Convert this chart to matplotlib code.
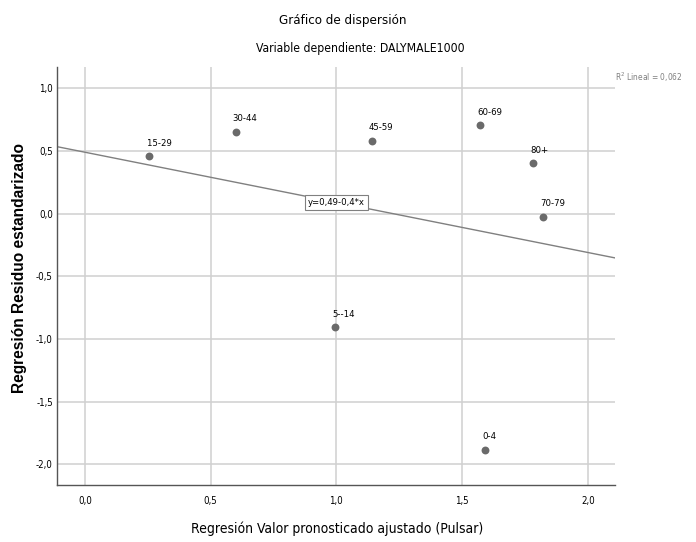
import numpy as np
import matplotlib.pyplot as plt
from matplotlib.ticker import FuncFormatter, MultipleLocator

# predicted (x) vs standardized residual (y) for each age group
labels = ['15-29', '30-44', '45-59', '60-69', '80+', '70-79', '5--14', '0-4']
pred = [0.256, 0.599, 1.140, 1.572, 1.781, 1.823, 0.994, 1.590]
resid = [0.457, 0.654, 0.583, 0.707, 0.401, -0.024, -0.905, -1.883]

# fit line y = b0 + b1*x as reported
b0 = 0.49
b1 = -0.4
r2 = '0,062'

narrow = dict(family=['Liberation Sans Narrow', 'DejaVu Sans'], stretch='condensed')
fig = plt.figure(figsize=(6.96, 5.42), dpi=100)
ax = fig.add_axes([0.0819, 0.1052, 0.8017, 0.7712])

xmin, xmax = -0.111, 2.108
ymin, ymax = -2.165, 1.17
ax.set_xlim(xmin, xmax)
ax.set_ylim(ymin, ymax)

ax.xaxis.set_major_locator(MultipleLocator(0.5))
ax.yaxis.set_major_locator(MultipleLocator(0.5))
fmt = FuncFormatter(lambda v, p: ('%.1f' % v).replace('.', ','))
ax.xaxis.set_major_formatter(fmt)
ax.yaxis.set_major_formatter(fmt)
ax.tick_params(axis='x', length=0, labelsize=7, pad=8)
ax.tick_params(axis='y', length=0, labelsize=7, pad=3)
for t in ax.get_xticklabels() + ax.get_yticklabels():
    t.set_family(narrow['family'])
    t.set_stretch('condensed')

ax.grid(True, color='#d0d0d0', linewidth=1.1)
ax.set_axisbelow(True)
for s in ['top', 'right']:
    ax.spines[s].set_visible(False)
for s in ['left', 'bottom']:
    ax.spines[s].set_color('#555555')
    ax.spines[s].set_linewidth(1)

# fit line across the whole x range
xl = np.array([xmin, xmax])
ax.plot(xl, b0 + b1 * xl, color='#808080', linewidth=1, zorder=2)

ax.scatter(pred, resid, s=32, color='#6a6a6a', zorder=3, linewidths=0)
for lab, x, y in zip(labels, pred, resid):
    ax.annotate(lab, (x, y), xytext=(-2, 6), textcoords='offset points',
                fontsize=6.8, ha='left', va='bottom', **narrow)

ax.text(1.0, b0 + b1 * 1.0, 'y=0,49-0,4*x', fontsize=6.8,
        ha='center', va='center', zorder=4,
        bbox=dict(boxstyle='square,pad=0.35', fc='white', ec='#808080', lw=0.8),
        **narrow)

fig.text(0.884, 0.858, '$\\mathregular{R^2}$ Lineal = ' + r2, fontsize=6,
         color='#808080', ha='left', va='center', **narrow)

fig.text(0.493, 0.963, 'Gráfico de dispersión', fontsize=9.5,
         ha='center', va='center', **narrow)
fig.text(0.517, 0.911, 'Variable dependiente: DALYMALE1000', fontsize=8.7,
         ha='center', va='center', **narrow)

fig.text(0.484, 0.011, 'Regresión Valor pronosticado ajustado (Pulsar)',
         fontsize=10, ha='center', va='bottom', **narrow)
fig.text(0.028, 0.506, 'Regresión Residuo estandarizado', fontsize=11.2,
         fontweight='bold', family=['Liberation Sans', 'DejaVu Sans'],
         rotation=90, ha='center', va='center')

fig.savefig('out.png', dpi=100)
